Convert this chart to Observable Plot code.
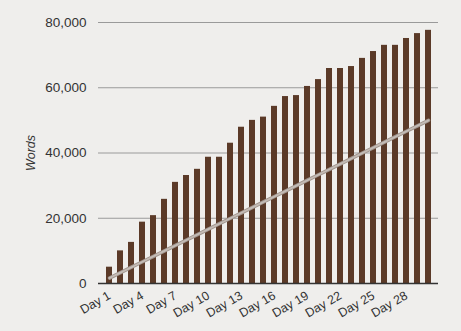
<!DOCTYPE html>
<html>
<head>
<meta charset="utf-8">
<script src="https://cdn.jsdelivr.net/npm/d3@7"></script>
<script src="https://cdn.jsdelivr.net/npm/@observablehq/plot@0.6"></script>
<style>
  html, body { margin: 0; padding: 0; background: #efeeec; }
</style>
</head>
<body>
<div id="chart"></div>
<script>
const days = Array.from({length: 30}, (_, i) => "Day " + (i + 1));
const words = [5000, 10000, 12600, 18800, 20800, 25800, 31000, 33100, 35000, 38700,
               38700, 43000, 47900, 50000, 51000, 54300, 57300, 57600, 60400, 62500,
               65900, 65900, 66500, 69000, 71100, 73000, 73000, 75100, 76600, 77600];
const target = [1667, 3333, 5000, 6667, 8333, 10000, 11667, 13333, 15000, 16667,
                18333, 20000, 21667, 23333, 25000, 26667, 28333, 30000, 31667, 33333,
                35000, 36667, 38333, 40000, 41667, 43333, 45000, 46667, 48333, 50000];
const tickLabels = ["Day 1", "Day 4", "Day 7", "Day 10", "Day 13", "Day 16", "Day 19", "Day 22", "Day 25", "Day 28"];
const yTicks = [0, 20000, 40000, 60000, 80000];
const yLabel = "Words";

const rows = days.map((d, i) => ({day: d, words: words[i], target: target[i]}));
const narrow = "'Liberation Sans Narrow', 'Liberation Sans', Arial, sans-serif";
const regular = "'Liberation Sans', Arial, sans-serif";

const chart = Plot.plot({
  width: 461,
  height: 331,
  marginLeft: 98,
  marginRight: 23,
  marginTop: 22,
  marginBottom: 48,
  style: {background: "#efeeec", fontFamily: regular, fontSize: "13px", color: "#333"},
  x: {type: "band", domain: days, padding: 0.47, label: null},
  y: {domain: [0, 80000], label: null},
  marks: [
    Plot.gridY(yTicks, {stroke: "#9a9a9a", strokeOpacity: 1, strokeWidth: 1}),
    Plot.barY(rows, {x: "day", y: "words", fill: "#5b3a28"}),
    Plot.ruleY([0], {stroke: "#333", strokeWidth: 1.3}),
    Plot.line(rows, {x: "day", y: "target", stroke: "#a0958e", strokeWidth: 3.6}),
    Plot.line(rows, {x: "day", y: "target", stroke: "#c4bcb6", strokeWidth: 1.8}),
    Plot.axisY(yTicks, {tickFormat: d3.format(","), tickSize: 0, tickPadding: 12, fill: "#333", fontSize: 13.5, fontFamily: narrow, label: null}),
    Plot.axisX(tickLabels, {tickSize: 0, tickRotate: -30, tickPadding: 11, fill: "#333", fontSize: 12.5, fontFamily: regular, label: null}),
    Plot.text([yLabel], {frameAnchor: "left", dx: -68, rotate: -90, textAnchor: "middle", fontStyle: "italic", fontSize: 12.5, fontFamily: regular, fill: "#333"})
  ]
});
document.getElementById("chart").appendChild(chart);
</script>
</body>
</html>
